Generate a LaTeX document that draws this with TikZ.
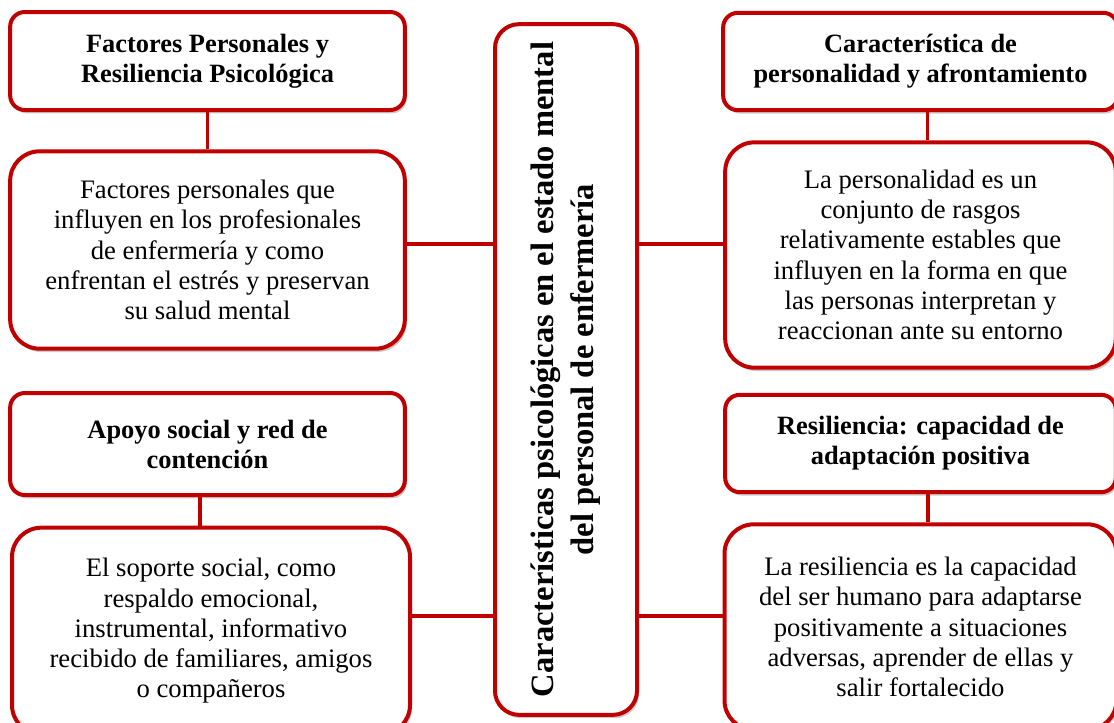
\documentclass[tikz,border=0pt]{standalone}
\usepackage{fontspec}
\setmainfont{Liberation Serif}
\usetikzlibrary{shadows,calc}
\definecolor{boxred}{HTML}{C00000}
\pgfdeclarehorizontalshading{cardshade}{100bp}{color(0bp)=(black!14); color(10bp)=(white); color(88bp)=(white); color(100bp)=(black!8)}
\tikzset{
  card/.style={draw=boxred, line width=3pt, shading=cardshade,
    drop shadow={shadow xshift=1.5pt, shadow yshift=-2.5pt, fill=black!35, opacity=0.6},
    align=center, inner sep=0pt, text=black},
  headbox/.style={card, rounded corners=11pt, font=\fontsize{19.8}{22.5}\selectfont\bfseries},
  bodybox/.style={card, rounded corners=22pt, font=\fontsize{20}{22.7}\selectfont},
  centerbox/.style={card, rounded corners=18pt, font=\fontsize{24.4}{30}\selectfont\bfseries},
  link/.style={draw=boxred, line width=2.4pt}
}
\begin{document}
\begin{tikzpicture}[x=0.75pt,y=-0.75pt]
\useasboundingbox (0,0) rectangle (1114,722);
\clip (0,0) rectangle (1114,722);
\node[headbox, minimum width=296pt, minimum height=73.5pt] (h1) at (207.5,61) {Factores Personales y\\Resiliencia Psicológica};
\node[bodybox, minimum width=296pt, minimum height=148pt] (b1) at (207.5,250) {Factores personales que\\influyen en los profesionales\\de enfermería y como\\enfrentan el estrés y preservan\\su salud mental};
\node[headbox, minimum width=296pt, minimum height=76.5pt] (h3) at (207.5,444) {Apoyo social y red de\\contención};
\node[bodybox, minimum width=298.5pt, minimum height=155pt] (b3) at (211,631) {El soporte social, como\\respaldo emocional,\\instrumental, informativo\\recibido de familiares, amigos\\o compañeros};
\node[centerbox, minimum width=518pt, minimum height=106.5pt, rotate=90] (ctr) at (566,369.5) {Características psicológicas en el estado mental\\del personal de enfermería};
\node[headbox, minimum width=296pt, minimum height=73pt] (h2) at (920.5,61.5) {Característica de\\personalidad y afrontamiento};
\node[bodybox, minimum width=293pt, minimum height=169pt] (b2) at (920.5,255) {La personalidad es un\\conjunto de rasgos\\relativamente estables que\\influyen en la forma en que\\las personas interpretan y\\reaccionan ante su entorno};
\node[headbox, minimum width=293pt, minimum height=73pt] (h4) at (920.5,443.5) {Resiliencia: capacidad de\\adaptación positiva};
\node[bodybox, minimum width=294pt, minimum height=154pt] (b4) at (920.5,627) {La resiliencia es la capacidad\\del ser humano para adaptarse\\positivamente a situaciones\\adversas, aprender de ellas y\\salir fortalecido};
% connector end points
\coordinate (l1) at ([yshift=4.5pt]b1.east);
\coordinate (l3) at ([yshift=11.25pt]b3.east);
\coordinate (r2) at ([yshift=8.2pt]b2.west);
\coordinate (r4) at ([yshift=8.25pt]b4.west);
\coordinate (t3) at ([xshift=-5.6pt]h3.south);
\coordinate (u3) at ([xshift=-5.6pt]b3.north);
\coordinate (t2) at ([xshift=5pt]h2.south);
\coordinate (u2) at ([xshift=5pt]b2.north);
\coordinate (t4) at ([xshift=5.6pt]h4.south);
\coordinate (u4) at ([xshift=5.6pt]b4.north);
% connectors
\draw[link] (h1.south) -- (b1.north);
\draw[link] (t3) -- (t3 |- u3);
\draw[link] (t2) -- (u2);
\draw[link] (t4) -- (u4);
\draw[link] (l1) -- (l1 -| ctr.north);
\draw[link] (l3) -- (l3 -| ctr.north);
\draw[link] (r2) -- (r2 -| ctr.south);
\draw[link] (r4) -- (r4 -| ctr.south);
\end{tikzpicture}
\end{document}
